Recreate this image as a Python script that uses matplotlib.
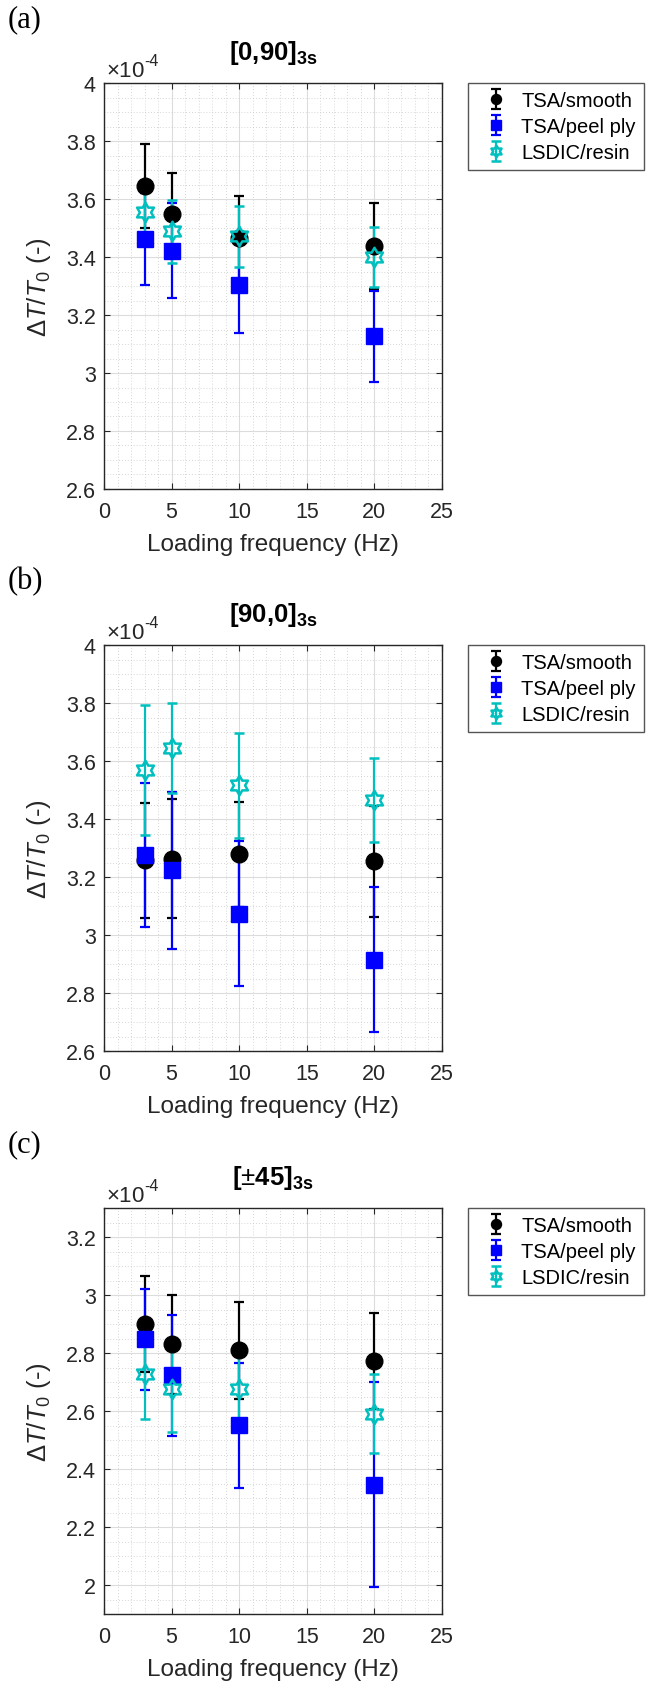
import matplotlib.pyplot as plt
import numpy as np
from matplotlib.path import Path
from matplotlib.ticker import MultipleLocator, FormatStrFormatter

plt.rcParams['font.family'] = ['Liberation Sans', 'DejaVu Sans']
plt.rcParams['mathtext.fontset'] = 'custom'
plt.rcParams['mathtext.rm'] = 'Liberation Sans'
plt.rcParams['mathtext.it'] = 'Liberation Sans:italic'
plt.rcParams['mathtext.bf'] = 'Liberation Sans:bold'

freq = [3, 5, 10, 20]
names = ['TSA/smooth', 'TSA/peel ply', 'LSDIC/resin']

# dT/T0 values, in units of 1e-4, with error bar half-lengths
a_smooth = [3.646, 3.549, 3.467, 3.439]
a_smooth_err = [0.145, 0.141, 0.144, 0.148]
a_peel = [3.462, 3.422, 3.302, 3.127]
a_peel_err = [0.158, 0.163, 0.163, 0.157]
a_resin = [3.555, 3.488, 3.471, 3.401]
a_resin_err = [0.110, 0.110, 0.106, 0.103]

b_smooth = [3.257, 3.263, 3.279, 3.254]
b_smooth_err = [0.197, 0.205, 0.181, 0.191]
b_peel = [3.275, 3.223, 3.074, 2.915]
b_peel_err = [0.248, 0.270, 0.250, 0.250]
b_resin = [3.568, 3.646, 3.516, 3.464]
b_resin_err = [0.224, 0.155, 0.180, 0.145]

c_smooth = [2.901, 2.830, 2.809, 2.772]
c_smooth_err = [0.165, 0.170, 0.166, 0.166]
c_peel = [2.847, 2.723, 2.551, 2.346]
c_peel_err = [0.174, 0.209, 0.215, 0.354]
c_resin = [2.729, 2.675, 2.677, 2.591]
c_resin_err = [0.157, 0.148, 0.145, 0.135]

# six-pointed star (MATLAB 'hexagram') marker
ang = np.pi / 2 + np.arange(12) * np.pi / 6
rad = np.where(np.arange(12) % 2 == 0, 1.0, 1 / np.sqrt(3))
verts = np.column_stack([rad * np.cos(ang), rad * np.sin(ang)])
verts = np.vstack([verts, verts[:1]])
hexagram = Path(verts, [Path.MOVETO] + [Path.LINETO] * 11 + [Path.CLOSEPOLY])

W, H = 648, 1690
fig = plt.figure(figsize=(W / 100, H / 100), dpi=100)

panels = [
    ('(a)', '[0,90]$_{\\mathbf{3s}}$', (2.6, 4.0), np.arange(2.6, 4.01, 0.2), 84,
     (a_smooth, a_smooth_err), (a_peel, a_peel_err), (a_resin, a_resin_err)),
    ('(b)', '[90,0]$_{\\mathbf{3s}}$', (2.6, 4.0), np.arange(2.6, 4.01, 0.2), 646,
     (b_smooth, b_smooth_err), (b_peel, b_peel_err), (b_resin, b_resin_err)),
    ('(c)', '[$\\pm$45]$_{\\mathbf{3s}}$', (1.9, 3.3), np.arange(2.0, 3.21, 0.2), 1209,
     (c_smooth, c_smooth_err), (c_peel, c_peel_err), (c_resin, c_resin_err)),
]

dark = '#262626'
cyan = '#00bfbf'
for tag, title, ylim, yticks, top, s1, s2, s3 in panels:
    ax = fig.add_axes([104 / W, 1 - (top + 406) / H, 338 / W, 406 / H])
    ax.errorbar(freq, s1[0], yerr=s1[1], fmt='o', color='k', ms=12,
                elinewidth=1.6, capsize=3.5, capthick=1.6, label=names[0])
    ax.errorbar(freq, s2[0], yerr=s2[1], fmt='s', color='#0000ff', ms=11.5,
                elinewidth=1.6, capsize=3.5, capthick=1.6, label=names[1])
    ax.errorbar(freq, s3[0], yerr=s3[1], fmt='', marker=hexagram, ls='none',
                color=cyan, ms=14, mfc='none', mec=cyan, mew=1.8,
                elinewidth=1.6, capsize=3.5, capthick=1.6, label=names[2])

    ax.set_xlim(0, 25)
    ax.set_ylim(*ylim)
    ax.set_xticks(np.arange(0, 26, 5))
    ax.set_yticks(yticks)
    ax.xaxis.set_minor_locator(MultipleLocator(1))
    ax.yaxis.set_minor_locator(MultipleLocator(0.05))
    ax.yaxis.set_major_formatter(FormatStrFormatter('%g'))
    ax.grid(True, which='major', color='#dcdcdc', lw=0.8)
    ax.grid(True, which='minor', color='#c8c8c8', lw=0.6, ls=(0, (1, 2.5)))
    ax.set_axisbelow(True)
    ax.tick_params(which='major', direction='in', top=True, right=True,
                   length=4, width=0.8, color=dark, labelcolor=dark, labelsize=15.5)
    ax.tick_params(axis='x', pad=9)
    ax.tick_params(axis='y', pad=6)
    ax.tick_params(which='minor', length=0)
    for sp in ax.spines.values():
        sp.set_color(dark)
        sp.set_linewidth(1.0)

    ax.set_xlabel('Loading frequency (Hz)', fontsize=17.5, color=dark)
    ax.xaxis.set_label_coords(0.5, -0.108)
    ax.set_ylabel('$\\mathit{\\Delta T/T_0}$ (-)', fontsize=18.5, color=dark)
    ax.yaxis.set_label_coords(-0.15, 0.5)

    ax.text(0.5, 1 + 24 / 406, title, transform=ax.transAxes, ha='center',
            va='baseline', fontsize=18.5, fontweight='bold')
    t10 = ax.text(0.005, 1 + 7 / 406, '$\\times$10', transform=ax.transAxes,
                  ha='left', va='baseline', fontsize=16, color=dark)
    ax.annotate('-4', xy=(1.0, 0.62), xycoords=t10, ha='left', va='bottom',
                fontsize=11.5, color=dark)
    fig.text(8 / W, 1 - (top - 64) / H, tag, family='Liberation Serif',
             fontsize=22, ha='left', va='center')

    leg = ax.legend(loc='upper left', bbox_to_anchor=(468 / W, 1 - top / H),
                    bbox_transform=fig.transFigure, borderaxespad=0,
                    fontsize=14.5, markerscale=0.6, fancybox=False,
                    edgecolor='#555555', framealpha=1, handlelength=2.0,
                    handletextpad=0.25, borderpad=0.4, labelspacing=0.35)
    leg.get_frame().set_linewidth(1.0)

fig.savefig('out.png', dpi=100)
